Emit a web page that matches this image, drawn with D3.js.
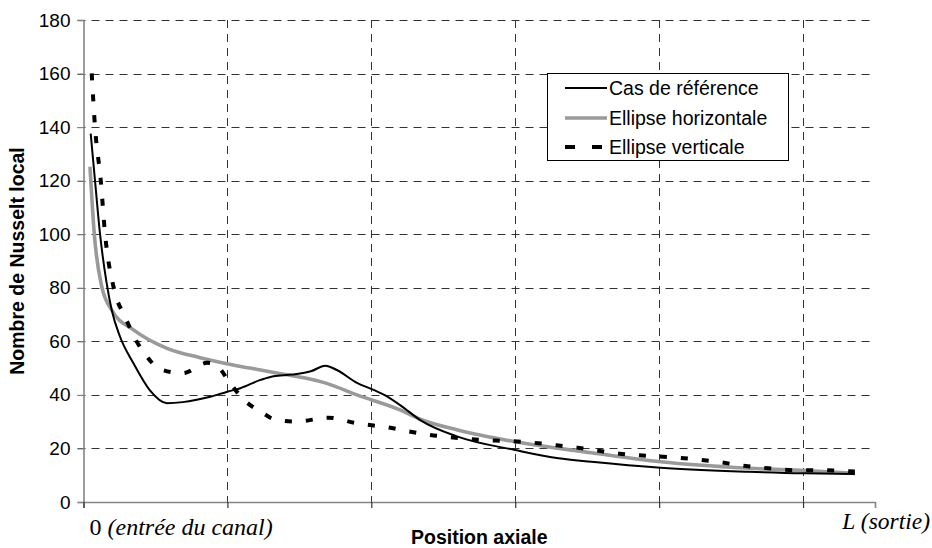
<!DOCTYPE html>
<html>
<head>
<meta charset="utf-8">
<script src="https://cdn.jsdelivr.net/npm/d3@7/dist/d3.min.js"></script>
<style>
  html, body { margin: 0; padding: 0; background: #fff; }
  svg { display: block; }
</style>
</head>
<body>
<svg id="chart" width="932" height="548"></svg>
<script>
// ---- Data (x in axial grid units: 0 = entrée, tick every unit) ----
const seriesNames = ["Cas de référence", "Ellipse horizontale", "Ellipse verticale"];

const refX = [0.05, 0.08, 0.115, 0.16, 0.196, 0.254, 0.345, 0.46, 0.58, 0.69, 0.88, 1.0, 1.09, 1.23, 1.32, 1.45, 1.58, 1.68, 1.76, 1.90, 2.02, 2.09, 2.20, 2.34, 2.60, 3.0, 3.30, 3.53, 4.01, 4.62, 5.01, 5.36];
const refY = [137.6, 120, 100, 82, 71.7, 61.7, 52, 41.8, 36.9, 37.3, 39.3, 41.2, 42.5, 45.6, 47.0, 47.6, 48.8, 50.9, 49.3, 44.5, 41.8, 40.0, 36.2, 30.6, 24.4, 19.4, 16.3, 15.0, 12.8, 11.3, 10.7, 10.5];

const horX = [0.045, 0.075, 0.127, 0.196, 0.35, 0.58, 0.81, 1.04, 1.23, 1.39, 1.55, 1.69, 1.90, 2.20, 2.34, 2.60, 3.0, 3.53, 4.01, 4.62, 5.01, 5.36];
const horY = [125.2, 100, 80.4, 71.7, 64.2, 57.4, 53.9, 51.2, 49.3, 47.7, 46.2, 44.3, 40.0, 34.4, 30.9, 26.9, 22.5, 18.4, 15.0, 12.6, 11.7, 10.7];

const verX = [0.057, 0.08, 0.12, 0.15, 0.21, 0.29, 0.37, 0.46, 0.52, 0.69, 0.86, 0.92, 1.02, 1.11, 1.25, 1.32, 1.48, 1.70, 1.90, 2.11, 2.41, 2.55, 2.76, 2.94, 3.09, 3.27, 3.43, 3.57, 3.77, 3.93, 4.08, 4.26, 4.43, 4.58, 4.76, 4.93, 5.08, 5.23, 5.36];
const verY = [160.1, 140, 120, 100, 80, 69, 59.9, 53.0, 49.9, 48.1, 52.0, 51.2, 44.3, 38.4, 33.1, 31.0, 30.0, 31.5, 29.4, 27.9, 25.0, 24.2, 23.2, 22.8, 22.3, 21.3, 20.3, 19.2, 17.8, 17.2, 16.7, 15.9, 14.8, 13.6, 12.6, 11.9, 11.9, 11.7, 11.4];

const yTicks = [0, 20, 40, 60, 80, 100, 120, 140, 160, 180];
const xTicks = [0, 1, 2, 3, 4, 5];
const xStartLabel = ["0", " (entrée du canal)"];
const xEndLabel = "L (sortie)";
const xTitle = "Position axiale";
const yTitle = "Nombre de Nusselt local";

// ---- Layout ----
const svg = d3.select("#chart");
const mLeft = 83.5, mRight = 875, mTop = 20, mBottom = 502;
const x = d3.scaleLinear().domain([0, 5.5]).range([mLeft, mRight]);
const y = d3.scaleLinear().domain([0, 180]).range([mBottom, mTop]);
const sans = "Liberation Sans, Arial, sans-serif";
const serif = "Liberation Serif, Times New Roman, serif";

svg.append("rect").attr("width", 932).attr("height", 548).attr("fill", "#fff");

// Gridlines
const grid = svg.append("g");
grid.selectAll("line.h").data(yTicks.filter(d => d > 0)).join("line")
  .attr("x1", mLeft - 6).attr("x2", mRight)
  .attr("y1", d => Math.round(y(d)) + 0.5).attr("y2", d => Math.round(y(d)) + 0.5)
  .attr("stroke", "#333").attr("stroke-width", 1).attr("stroke-dasharray", "8,6");
grid.selectAll("line.v").data(xTicks.filter(d => d > 0)).join("line")
  .attr("x1", d => Math.round(x(d)) + 0.5).attr("x2", d => Math.round(x(d)) + 0.5)
  .attr("y1", mTop).attr("y2", mBottom)
  .attr("stroke", "#333").attr("stroke-width", 1).attr("stroke-dasharray", "8,6");

// Axes
const yAxis = d3.axisLeft(y).tickValues(yTicks).tickSize(6).tickPadding(7);
const gy = svg.append("g").attr("transform", `translate(${mLeft},0)`).call(yAxis);
gy.select(".domain").attr("stroke", "#858585").attr("stroke-width", 1.6);
gy.selectAll(".tick line").attr("stroke", "#858585").attr("stroke-width", 1.2);
gy.selectAll(".tick text").attr("font-family", sans)
  .attr("font-size", 19).attr("fill", "#000");

const xAxis = d3.axisBottom(x).tickValues(xTicks).tickSize(6).tickFormat("");
const gx = svg.append("g").attr("transform", `translate(0,${mBottom})`).call(xAxis);
gx.select(".domain").attr("stroke", "#858585").attr("stroke-width", 1.6);
gx.selectAll(".tick line").attr("stroke", "#333").attr("stroke-width", 1.2);

// X end labels
const t0 = svg.append("text").attr("x", x(0) + 6).attr("y", 535)
  .attr("font-family", serif).attr("font-size", 24).attr("fill", "#000");
t0.append("tspan").text(xStartLabel[0]);
t0.append("tspan").attr("font-style", "italic").text(xStartLabel[1]);
svg.append("text").attr("x", 930).attr("y", 529).attr("text-anchor", "end")
  .attr("font-family", serif).attr("font-size", 23.5).attr("font-style", "italic")
  .attr("fill", "#000").text(xEndLabel);

// Titles
svg.append("text").attr("x", (mLeft + mRight) / 2).attr("y", 544).attr("text-anchor", "middle")
  .attr("font-family", sans).attr("font-weight", "bold")
  .attr("font-size", 19.5).text(xTitle);
svg.append("text").attr("transform", `translate(24,${(mTop + mBottom) / 2}) rotate(-90)`)
  .attr("text-anchor", "middle")
  .attr("font-family", sans).attr("font-weight", "bold")
  .attr("font-size", 19.5).text(yTitle);

// Series
const line = d3.line().x(d => x(d[0])).y(d => y(d[1])).curve(d3.curveMonotoneX);
const styles = [
  { color: "#000", width: 2, dash: null },
  { color: "#9a9a9a", width: 3.6, dash: null },
  { color: "#000", width: 4, dash: "7,14" }
];
const series = [
  d3.zip(refX, refY),
  d3.zip(horX, horY),
  d3.zip(verX, verY)
];
const drawOrder = [1, 0, 2];
drawOrder.forEach(i => {
  svg.append("path").datum(series[i]).attr("d", line)
    .attr("fill", "none").attr("stroke", styles[i].color)
    .attr("stroke-width", styles[i].width)
    .attr("stroke-dasharray", styles[i].dash);
});

// Legend
const lg = svg.append("g");
lg.append("rect").attr("x", 547.5).attr("y", 73.5).attr("width", 241).attr("height", 87)
  .attr("fill", "#fff").attr("stroke", "#000").attr("stroke-width", 1);
const rowY = [88, 118, 147];
seriesNames.forEach((name, i) => {
  lg.append("line").attr("x1", 565).attr("x2", 607).attr("y1", rowY[i]).attr("y2", rowY[i])
    .attr("stroke", styles[i].color).attr("stroke-width", styles[i].width)
    .attr("stroke-dasharray", i === 2 ? "10,17" : null);
  lg.append("text").attr("x", 609).attr("y", rowY[i]).attr("dy", "0.35em")
    .attr("font-family", sans).attr("font-size", 19.5)
    .attr("fill", "#000").text(name);
});
</script>
</body>
</html>
